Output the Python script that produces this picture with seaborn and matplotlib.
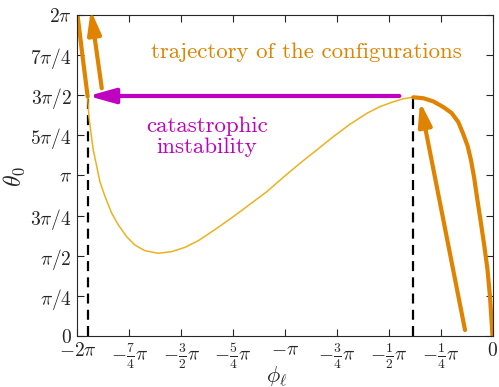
import numpy as np
import pandas as pd
import matplotlib
matplotlib.use("Agg")
import matplotlib.pyplot as plt
import seaborn as sns

# equilibrium curve (units of pi)
phi_pi = [-2.0, -1.976, -1.951, -1.945, -1.935, -1.924, -1.907, -1.892, -1.867,
          -1.835, -1.803, -1.763, -1.723, -1.675, -1.611, -1.546, -1.482, -1.418,
          -1.329, -1.249, -1.169, -1.088, -1.008, -0.928, -0.847, -0.767, -0.687,
          -0.606, -0.542, -0.478, -0.429, -0.382, -0.333, -0.285, -0.237, -0.197,
          -0.165, -0.141, -0.120, -0.104, -0.089, -0.075, -0.058, -0.039, -0.024,
          -0.012, 0.0]
theta_pi = [2.0, 1.745, 1.490, 1.365, 1.262, 1.158, 1.054, 0.960, 0.867,
            0.764, 0.691, 0.618, 0.566, 0.531, 0.515, 0.525, 0.552, 0.593,
            0.670, 0.743, 0.820, 0.898, 0.988, 1.075, 1.158, 1.241, 1.318,
            1.386, 1.428, 1.458, 1.477, 1.486, 1.480, 1.460, 1.425, 1.388,
            1.332, 1.257, 1.183, 1.096, 0.990, 0.865, 0.722, 0.556, 0.411,
            0.243, 0.0]

# fold points (jump from right fold to left branch)
fold_phi_pi = [-1.951, -0.382]
fold_theta_pi = 1.49

# trajectory arrows: (start, end) in units of pi
arrow_up_right = ((-0.1325, 0.037), (-0.349, 1.458))
arrow_up_left = ((-1.883, 1.542), (-1.936, 2.029))
arrow_jump = ((-0.449, 1.494), (-1.948, 1.494))

xtick_labels = [r"$-2\pi$", r"$-\frac{7}{4}\pi$", r"$-\frac{3}{2}\pi$", r"$-\frac{5}{4}\pi$",
                r"$-\pi$", r"$-\frac{3}{4}\pi$", r"$-\frac{1}{2}\pi$", r"$-\frac{1}{4}\pi$", r"$0$"]
ytick_labels = [r"$0$", r"$\pi/4$", r"$\pi/2$", r"$3\pi/4$", r"$\pi$",
                r"$5\pi/4$", r"$3\pi/2$", r"$7\pi/4$", r"$2\pi$"]

THIN = "#EDB120"
ORANGE = "#E08300"
MAGENTA = "#C000C0"

sns.set_theme(style="ticks")
plt.rcParams["font.family"] = ["cmr10", "DejaVu Serif"]
plt.rcParams["mathtext.fontset"] = "cm"
plt.rcParams["axes.formatter.use_mathtext"] = True

df = pd.DataFrame({"phi": np.array(phi_pi) * np.pi, "theta": np.array(theta_pi) * np.pi})
phi_fold = np.array(fold_phi_pi) * np.pi
thick_right = df[df.phi >= phi_fold[1] - 1e-9]
thick_left = df[df.phi <= phi_fold[0] + 1e-9]

fig = plt.figure(figsize=(4.99, 3.87), dpi=100)
ax = fig.add_axes([0.1553, 0.1318, 0.987 - 0.1553, 0.962 - 0.1318])

sns.lineplot(data=df, x="phi", y="theta", sort=False, estimator=None,
             color=THIN, lw=1.1, ax=ax)
for part in (thick_right, thick_left):
    sns.lineplot(data=part, x="phi", y="theta", sort=False, estimator=None,
                 color=ORANGE, lw=3.0, ax=ax)

# dashed fold lines
for xf in phi_fold:
    ax.plot([xf, xf], [0, fold_theta_pi * np.pi], color="black", lw=1.6,
            dashes=(4.5, 2.8), zorder=1)

def arrow(pts, color, hl, hw):
    (x0, y0), (x1, y1) = pts
    ax.annotate("", xy=(x1 * np.pi, y1 * np.pi), xytext=(x0 * np.pi, y0 * np.pi),
                annotation_clip=False,
                arrowprops=dict(arrowstyle=f"-|>,head_length={hl},head_width={hw}",
                                color=color, lw=3.0, mutation_scale=10,
                                shrinkA=0, shrinkB=0))

arrow(arrow_up_right, ORANGE, 1.4, 0.4)
arrow(arrow_up_left, ORANGE, 1.4, 0.4)
arrow(arrow_jump, MAGENTA, 1.6, 0.45)

ax.text(-0.896 * np.pi, 1.768 * np.pi, "trajectory of the configurations",
        color=ORANGE, fontsize=16.5, ha="center", va="center")
ax.text(-1.376 * np.pi, 1.242 * np.pi, "catastrophic\ninstability",
        color=MAGENTA, fontsize=16.5, ha="center", va="center",
        multialignment="center", linespacing=1.1)

ax.set_xlim(-2 * np.pi, 0)
ax.set_ylim(0, 2 * np.pi)
ax.set_xticks(np.linspace(-2 * np.pi, 0, 9))
ax.set_xticklabels(xtick_labels, fontsize=14)
ax.set_yticks(np.linspace(0, 2 * np.pi, 9))
ax.set_yticklabels(ytick_labels, fontsize=14)
ax.tick_params(direction="in", length=5, width=0.8, top=True, right=True,
               colors="#262626", pad=4)
for s in ax.spines.values():
    s.set_visible(True)
    s.set_color("#262626")
    s.set_linewidth(0.8)

ax.set_xlabel(r"$\phi_\ell$", fontsize=16, va="center")
ax.xaxis.set_label_coords(0.48, -0.127)
ax.set_ylabel(r"$\theta_0$", fontsize=17, va="center")
ax.yaxis.set_label_coords(-0.151, 0.495)

fig.savefig("out.png", dpi=100)
